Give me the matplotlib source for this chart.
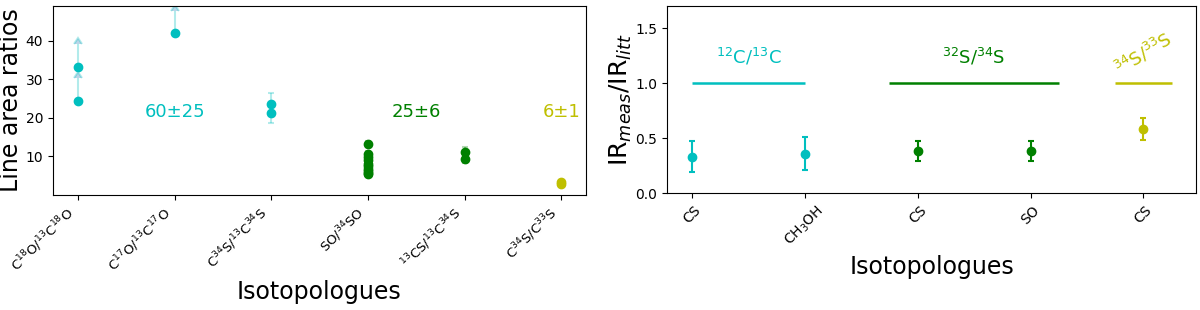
import numpy as np
import matplotlib.pyplot as plt

# Left panel: line area ratios per isotopologue pair
pairs = [r'C$^{18}$O/$^{13}$C$^{18}$O', r'C$^{17}$O/$^{13}$C$^{17}$O',
         r'C$^{34}$S/$^{13}$C$^{34}$S', r'SO/$^{34}$SO',
         r'$^{13}$CS/$^{13}$C$^{34}$S', r'C$^{34}$S/C$^{33}$S']

# lower limits (arrows)
c18o_vals = [33.1, 24.4]
c18o_arrow = [6.2, 6.0]
c17o_vals = [42.0]
c17o_arrow = [5.8]
# measured values with errors
c34s_vals = [23.5, 21.2]
c34s_err = [3.0, 2.5]
so_vals = [13.2, 10.6, 9.7, 8.9, 8.1, 7.4, 6.8, 6.2, 5.7, 5.3]
so_err = [0.8, 0.7, 0.6, 0.6, 0.5, 0.5, 0.4, 0.4, 0.4, 0.3]
cs13_vals = [11.0, 9.4]
cs13_err = [1.3, 1.1]
c33s_vals = [3.4, 2.7]
c33s_err = [0.4, 0.3]

# Right panel: IR_meas / IR_litt
mols = ['CS', r'CH$_3$OH', 'CS', 'SO', 'CS']
ir_vals = [0.33, 0.36, 0.38, 0.38, 0.58]
ir_err = [0.14, 0.15, 0.09, 0.09, 0.10]
ir_cols = ['c', 'c', 'g', 'g', 'y']

fig = plt.figure(figsize=(12, 3.1), dpi=100)
ax1 = fig.add_axes([0.044, 0.372, 0.444, 0.608])
ax2 = fig.add_axes([0.556, 0.377, 0.441, 0.603])

light = dict(alpha=0.3, elinewidth=1.5, capthick=1.5, fmt='none')

#left
ax1.errorbar([0]*2, c18o_vals, yerr=c18o_arrow, lolims=True, ecolor='c', capsize=3, **light)
ax1.errorbar([1], c17o_vals, yerr=c17o_arrow, lolims=True, ecolor='c', capsize=3, **light)
ax1.errorbar([2]*2, c34s_vals, yerr=c34s_err, ecolor='c', capsize=2.5, **light)
ax1.errorbar([3]*len(so_vals), so_vals, yerr=so_err, ecolor='g', capsize=2.5, **light)
ax1.errorbar([4]*2, cs13_vals, yerr=cs13_err, ecolor='g', capsize=2.5, **light)
ax1.errorbar([5]*2, c33s_vals, yerr=c33s_err, ecolor='y', capsize=2.5, **light)
ax1.plot([0]*2, c18o_vals, 'o', color='c', ms=6)
ax1.plot([1], c17o_vals, 'o', color='c', ms=6)
ax1.plot([2]*2, c34s_vals, 'o', color='c', ms=6)
ax1.plot([3]*len(so_vals), so_vals, 'o', color='g', ms=6)
ax1.plot([4]*2, cs13_vals, 'o', color='g', ms=6)
ax1.plot([5]*2, c33s_vals, 'o', color='y', ms=6)

ax1.text(1, 21.5, '60±25', color='c', fontsize=13, ha='center', va='center')
ax1.text(3.5, 21.5, '25±6', color='g', fontsize=13, ha='center', va='center')
ax1.text(5, 21.5, '6±1', color='y', fontsize=13, ha='center', va='center')

ax1.set_xlim(-0.26, 5.25)
ax1.set_ylim(0, 49)
ax1.set_yticks([10, 20, 30, 40])
ax1.set_xticks(range(len(pairs)))
ax1.set_xticklabels(pairs, rotation=45, ha='right', fontsize=9.5)
ax1.tick_params(axis='y', labelsize=10)
ax1.set_ylabel('Line area ratios', fontsize=17, labelpad=2)
ax1.set_xlabel('Isotopologues', fontsize=17)

#right
for i in range(len(ir_vals)):
    ax2.errorbar(i, ir_vals[i], yerr=ir_err[i], fmt='o', color=ir_cols[i], ms=6,
                 capsize=2.5, elinewidth=1.5, capthick=1.5)
ax2.hlines(1, 0, 1, color='c', lw=1.8)
ax2.hlines(1, 1.75, 3.25, color='g', lw=1.8)
ax2.hlines(1, 3.75, 4.25, color='y', lw=1.8)
ax2.text(0.5, 1.24, r'$^{12}$C/$^{13}$C', color='c', fontsize=13, ha='center', va='center')
ax2.text(2.5, 1.24, r'$^{32}$S/$^{34}$S', color='g', fontsize=13, ha='center', va='center')
ax2.text(4.0, 1.27, r'$^{34}$S/$^{33}$S', color='y', fontsize=13, ha='center', va='center', rotation=32)

ax2.set_xlim(-0.22, 4.47)
ax2.set_ylim(0, 1.7)
ax2.set_yticks([0, 0.5, 1.0, 1.5])
ax2.set_xticks(range(len(mols)))
ax2.set_xticklabels(mols, rotation=45, ha='center', fontsize=10)
ax2.tick_params(axis='y', labelsize=10)
ax2.set_ylabel(r'IR$_{meas}$/IR$_{litt}$', fontsize=18, labelpad=1)
ax2.set_xlabel('Isotopologues', fontsize=17)

plt.savefig('out.png')
